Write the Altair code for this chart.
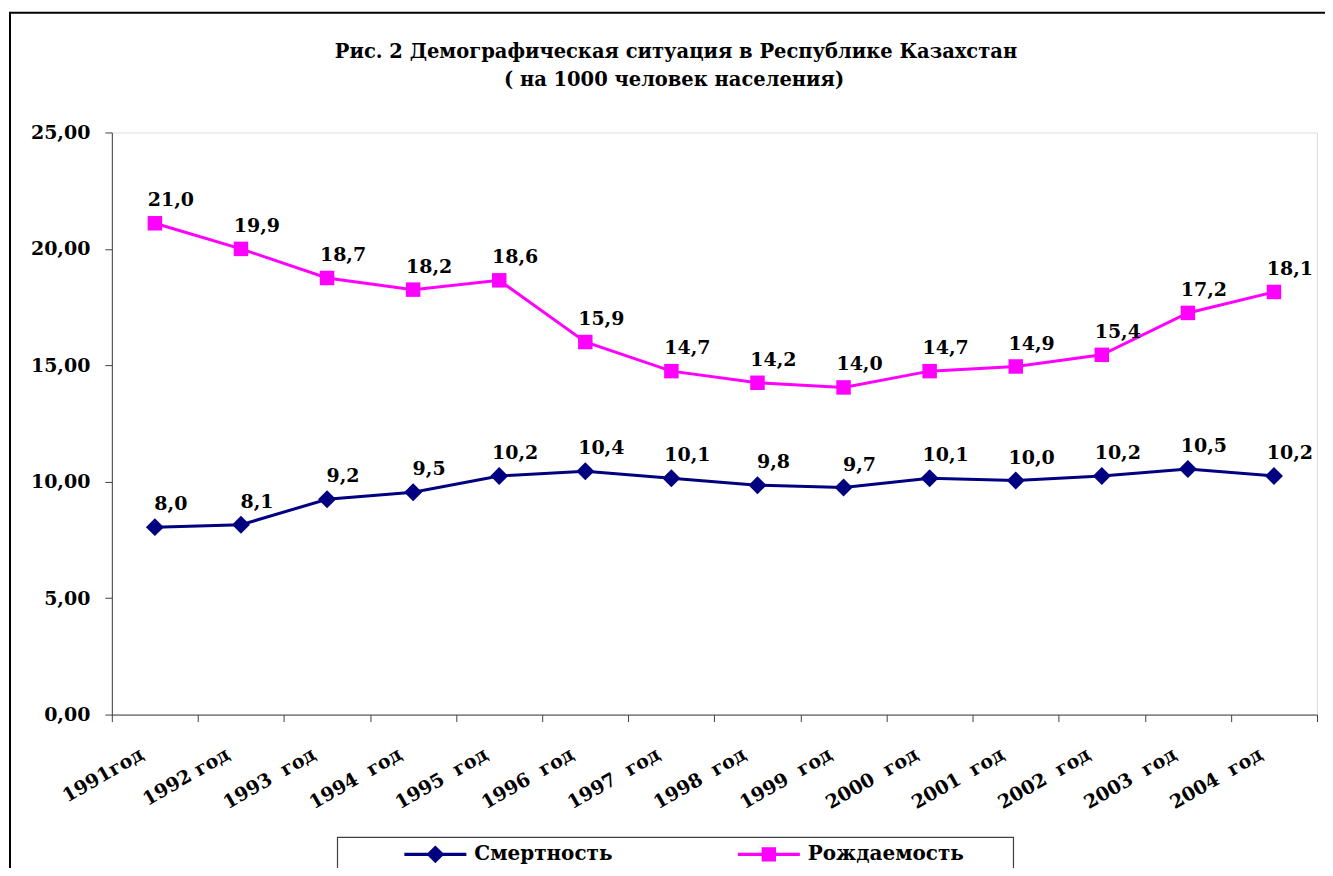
import altair as alt
import pandas as pd

# ---------------- data ----------------
years = ["1991год", "1992 год", "1993\u00a0 год", "1994\u00a0 год", "1995\u00a0 год",
         "1996\u00a0 год", "1997\u00a0 год", "1998\u00a0 год", "1999\u00a0 год",
         "2000\u00a0 год", "2001\u00a0 год", "2002\u00a0 год", "2003\u00a0 год", "2004\u00a0 год"]

mortality = [8.05, 8.15, 9.25, 9.55, 10.25, 10.45, 10.15, 9.85, 9.75, 10.15, 10.05, 10.25, 10.55, 10.25]
mortality_labels = ["8,0", "8,1", "9,2", "9,5", "10,2", "10,4", "10,1", "9,8", "9,7",
                    "10,1", "10,0", "10,2", "10,5", "10,2"]

birth = [21.1, 20.0, 18.75, 18.25, 18.65, 16.0, 14.75, 14.25, 14.05, 14.75, 14.95, 15.45, 17.25, 18.15]
birth_labels = ["21,0", "19,9", "18,7", "18,2", "18,6", "15,9", "14,7", "14,2", "14,0",
                "14,7", "14,9", "15,4", "17,2", "18,1"]

series_names = ["Смертность", "Рождаемость"]
series_colors = ["#000080", "#FF00FF"]
y_ticks = [0, 5, 10, 15, 20, 25]

title_lines = ["Рис. 2 Демографическая ситуация в Республике Казахстан",
               "( на 1000 человек населения)"]

FONT = "DejaVu Serif"

df = pd.concat([
    pd.DataFrame({"year": years, "value": mortality, "label": mortality_labels,
                  "series": series_names[0]}),
    pd.DataFrame({"year": years, "value": birth, "label": birth_labels,
                  "series": series_names[1]}),
], ignore_index=True)

color_scale = alt.Scale(domain=series_names, range=series_colors)

x_enc = alt.X("year:N", sort=years,
              scale=alt.Scale(type="band", paddingInner=0, paddingOuter=0),
              axis=alt.Axis(title=None, labelAngle=-30, labelAlign="right",
                            labelBaseline="top", labelPadding=23, labelOffset=-18,
                            tickBand="extent", tickSize=7, tickColor="#404040",
                            domainColor="#404040", labelFont=FONT, labelFontSize=19,
                            labelFontWeight="bold", labelColor="black", grid=False))
y_enc = alt.Y("value:Q",
              scale=alt.Scale(domain=[0, 25], nice=False, zero=True),
              axis=alt.Axis(title=None, values=y_ticks,
                            labelExpr="replace(format(datum.value, '.2f'), '.', ',')",
                            tickSize=7, tickColor="#404040", domainColor="#404040",
                            labelPadding=15, labelFont=FONT, labelFontSize=19,
                            labelFontWeight="bold", labelColor="black", grid=False))

base = alt.Chart(df).encode(
    x=x_enc, y=y_enc,
    color=alt.Color("series:N", scale=color_scale, legend=None),
)

lines = base.mark_line(strokeWidth=3)
pts_m = base.transform_filter(alt.datum.series == series_names[0]).mark_point(
    shape="diamond", filled=True, size=324, opacity=1)
pts_b = base.transform_filter(alt.datum.series == series_names[1]).mark_point(
    shape="square", filled=True, size=210, opacity=1)
texts = base.mark_text(dx=16, dy=-17, baseline="alphabetic", align="center",
                       font=FONT, fontSize=19, fontWeight="bold").encode(
    text="label:N", color=alt.value("black"))

leg_paths = [
    "M-3.45,-0.17H3.45V0.17H-3.45Z M0,-1L1,0L0,1L-1,0Z",
    "M-3.45,-0.17H3.45V0.17H-3.45Z M-0.8,-0.8H0.8V0.8H-0.8Z",
]
leg = alt.Legend(title=None, orient="none", legendX=314, legendY=713,
                 direction="horizontal", symbolSize=324, symbolStrokeWidth=0,
                 labelFont=FONT, labelFontSize=20, labelFontWeight="bold",
                 labelColor="black", labelOffset=29, columnPadding=124, padding=0,
                 labelLimit=300, symbolOpacity=1)
legend_layer = alt.Chart(df).transform_filter("datum.value < 0").mark_point(filled=True).encode(
    color=alt.Color("series:N", scale=alt.Scale(domain=series_names, range=series_colors),
                    legend=leg),
    shape=alt.Shape("series:N", scale=alt.Scale(domain=series_names, range=leg_paths),
                    legend=leg),
)

one = pd.DataFrame({"k": [0]})
frame = alt.Chart(one).mark_rect(fill="transparent", stroke="black", strokeWidth=2).encode(
    x=alt.value(-102), x2=alt.value(1260), y=alt.value(-120), y2=alt.value(780))
legend_box = alt.Chart(one).mark_rect(fill="transparent", stroke="#404040", strokeWidth=1.2).encode(
    x=alt.value(226), x2=alt.value(903), y=alt.value(706), y2=alt.value(780))

t1 = alt.Chart(pd.DataFrame({"t": [title_lines[0]]})).mark_text(
    font=FONT, fontSize=19.5, fontWeight="bold", align="center", baseline="alphabetic",
    color="black").encode(x=alt.value(565), y=alt.value(-75), text="t:N")
t2 = alt.Chart(pd.DataFrame({"t": [title_lines[1]]})).mark_text(
    font=FONT, fontSize=19.5, fontWeight="bold", align="center", baseline="alphabetic",
    color="black").encode(x=alt.value(563), y=alt.value(-47), text="t:N")

chart = alt.layer(frame, legend_box, t1, t2, lines, pts_m, pts_b, texts, legend_layer).resolve_scale(
    color="independent", shape="independent"
).resolve_legend(color="independent", shape="independent").properties(
    width=1207, height=583,
    autosize=alt.AutoSizeParams(type="none"),
    padding={"left": 104, "top": 124, "right": 8, "bottom": 153},
).configure_view(strokeWidth=0).configure(background="white")

chart.save("out.html", embed_options={"renderer": "svg", "actions": False})
